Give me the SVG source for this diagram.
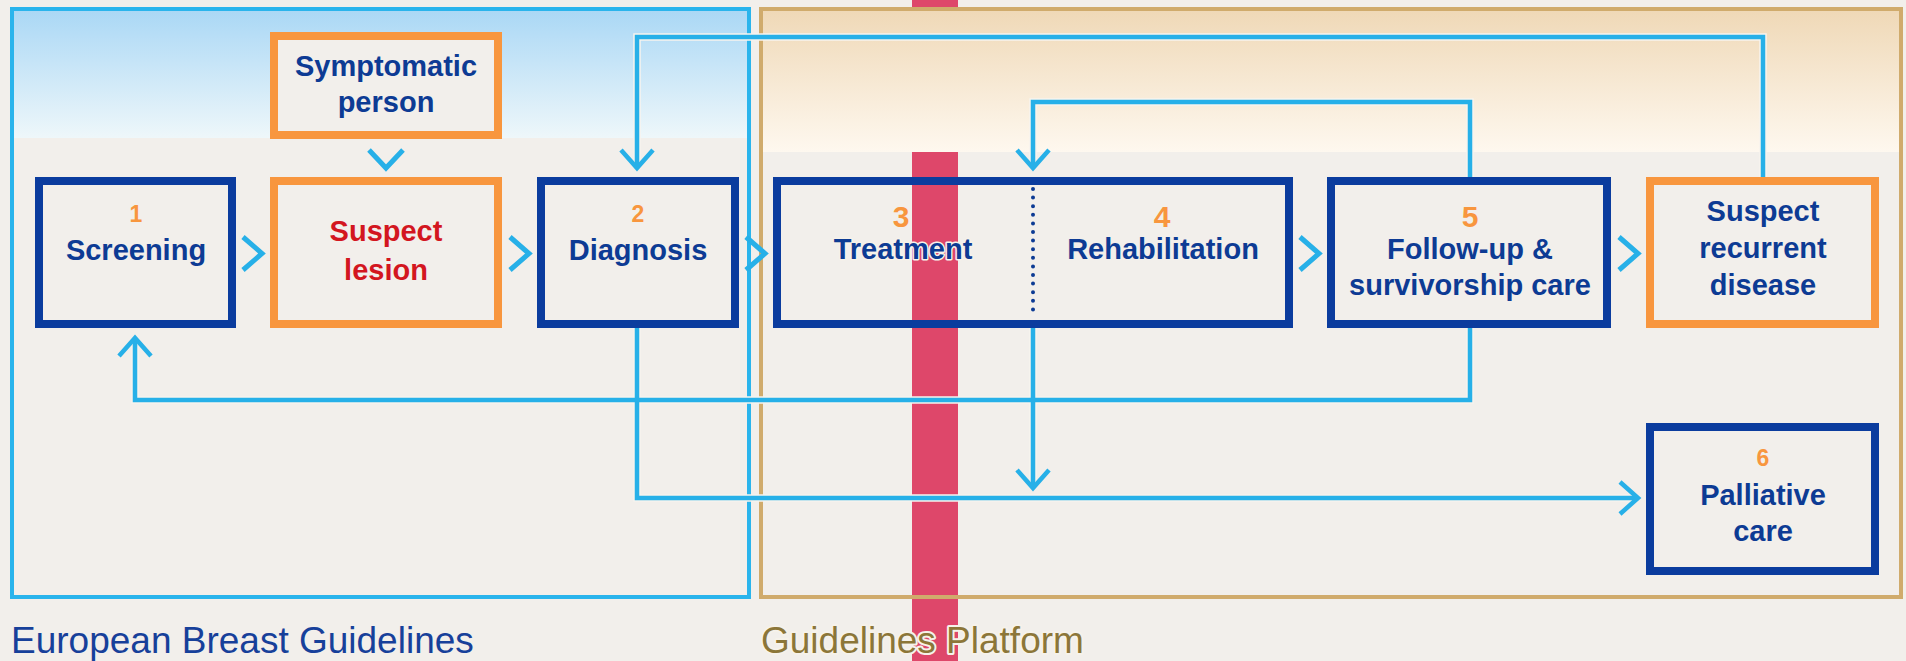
<svg xmlns="http://www.w3.org/2000/svg" width="1906" height="661" viewBox="0 0 1906 661">
  <defs>
    <linearGradient id="gBlue" x1="0" y1="0" x2="0" y2="1">
      <stop offset="0" stop-color="#a9d7f5"/>
      <stop offset="1" stop-color="#eef7fa"/>
    </linearGradient>
    <linearGradient id="gTan" x1="0" y1="0" x2="0" y2="1">
      <stop offset="0" stop-color="#efd8b6"/>
      <stop offset="1" stop-color="#fef8ef"/>
    </linearGradient>
    <marker id="arr" markerUnits="userSpaceOnUse" viewBox="-22 -20 26 40" refX="0" refY="0" markerWidth="26" markerHeight="40" orient="auto" overflow="visible">
      <path d="M-18,-16 L0,0 L-18,16" fill="none" stroke="#27b0e8" stroke-width="4.5"/>
    </marker>
    <style>
      .bg { fill: #f2efeb; }
      .box-blue { fill: #f2efeb; stroke: #0b3c9e; stroke-width: 8; }
      .box-orange { fill: #f2efeb; stroke: #f8963e; stroke-width: 8; }
      .lbl { font-family: "Liberation Sans", Arial, sans-serif; font-weight: bold; font-size: 29px; fill: #0d3b94; text-anchor: middle; }
      .red { fill: #d3161f; }
      .num-s { font-family: "Liberation Sans", Arial, sans-serif; font-weight: bold; font-size: 23px; fill: #f8963e; text-anchor: middle; }
      .num-l { font-family: "Liberation Sans", Arial, sans-serif; font-weight: bold; font-size: 30px; fill: #f8963e; text-anchor: middle; }
      .halo { stroke: #f6f2ea; stroke-width: 3; paint-order: stroke; stroke-linejoin: round; }
      .conn { fill: none; stroke: #27b0e8; stroke-width: 4.5; }
      .conn-halo { fill: none; stroke: #f7f4ee; stroke-width: 7.5; }
      .chev { fill: none; stroke: #27b0e8; stroke-width: 5; }
      .frame-blue { fill: none; stroke: #2ab4ec; stroke-width: 4; }
      .frame-tan { fill: none; stroke: #d0ab6c; stroke-width: 4; }
      .title { font-family: "Liberation Sans", Arial, sans-serif; font-size: 37px; }
    </style>
  </defs>

  <rect class="bg" x="0" y="0" width="1906" height="661"/>

  <g id="background-panels">
    <rect x="912" y="0" width="46" height="661" fill="#de476a"/>
    <rect x="11" y="8" width="738" height="130" fill="url(#gBlue)"/>
    <rect x="760" y="8" width="1141" height="144" fill="url(#gTan)"/>
    <rect class="frame-blue" x="12" y="9" width="737" height="588"/>
    <rect class="frame-tan" x="761" y="9" width="1140" height="588"/>
    <text class="title" x="11" y="653" fill="#17409a">European Breast Guidelines</text>
    <text class="title halo" x="761" y="653" fill="#8c7638" style="stroke-width:4">Guidelines Platform</text>
  </g>

  <g id="connectors">
    <g>
      <path class="conn-halo" d="M1763,177 V37 H637 V160"/>
      <path class="conn-halo" d="M1470,177 V102 H1033 V160"/>
      <path class="conn-halo" d="M1470,328 V400 H135 V346"/>
      <path class="conn-halo" d="M1033,328 V480"/>
      <path class="conn-halo" d="M637,328 V498 H1630"/>
    </g>
    <path class="conn" d="M1763,177 V37 H637 V168" marker-end="url(#arr)"/>
    <path class="conn" d="M1470,177 V102 H1033 V168" marker-end="url(#arr)"/>
    <path class="conn" d="M1470,328 V400 H135 V338" marker-end="url(#arr)"/>
    <path class="conn" d="M1033,328 V488" marker-end="url(#arr)"/>
    <path class="conn" d="M637,328 V498 H1638" marker-end="url(#arr)"/>
    <path class="chev" d="M369,150 L386,168 L403,150"/>
    <path class="chev" d="M243,237 L262,253.5 L243,270"/>
    <path class="chev" d="M510,237 L529,253.5 L510,270"/>
    <path class="chev" d="M746,237 L765,253.5 L746,270"/>
    <path class="chev" d="M1300,237 L1319,253.5 L1300,270"/>
    <path class="chev" d="M1619,237 L1638,253.5 L1619,270"/>
  </g>

  <g id="symptomatic-person">
    <rect class="box-orange" x="274" y="36" width="224" height="99"/>
    <text class="lbl" x="386" y="76">Symptomatic</text>
    <text class="lbl" x="386" y="112">person</text>
  </g>

  <g id="screening">
    <rect class="box-blue" x="39" y="181" width="193" height="143"/>
    <text class="num-s" x="136" y="222">1</text>
    <text class="lbl" x="136" y="260">Screening</text>
  </g>

  <g id="suspect-lesion">
    <rect class="box-orange" x="274" y="181" width="224" height="143"/>
    <text class="lbl red" x="386" y="241">Suspect</text>
    <text class="lbl red" x="386" y="280">lesion</text>
  </g>

  <g id="diagnosis">
    <rect class="box-blue" x="541" y="181" width="194" height="143"/>
    <text class="num-s" x="638" y="222">2</text>
    <text class="lbl" x="638" y="260">Diagnosis</text>
  </g>

  <g id="treatment-rehabilitation">
    <rect x="777" y="181" width="512" height="143" fill="none" stroke="#0b3c9e" stroke-width="8"/>
    <line x1="1033" y1="189" x2="1033" y2="318" stroke="#0d3b94" stroke-width="4" stroke-linecap="round" stroke-dasharray="0 8.6"/>
    <g id="treatment">
      <text class="num-l" x="901" y="227">3</text>
      <text class="lbl halo" x="903" y="259">Treatment</text>
    </g>
    <g id="rehabilitation">
      <text class="num-l" x="1162" y="227">4</text>
      <text class="lbl" x="1163" y="259">Rehabilitation</text>
    </g>
  </g>

  <g id="follow-up">
    <rect class="box-blue" x="1331" y="181" width="276" height="143"/>
    <text class="num-l" x="1470" y="227">5</text>
    <text class="lbl" x="1470" y="259">Follow-up &amp;</text>
    <text class="lbl" x="1470" y="295">survivorship care</text>
  </g>

  <g id="suspect-recurrent-disease">
    <rect class="box-orange" x="1650" y="181" width="225" height="143"/>
    <text class="lbl" x="1763" y="221">Suspect</text>
    <text class="lbl" x="1763" y="258">recurrent</text>
    <text class="lbl" x="1763" y="295">disease</text>
  </g>

  <g id="palliative-care">
    <rect class="box-blue" x="1650" y="427" width="225" height="144"/>
    <text class="num-s" x="1763" y="466">6</text>
    <text class="lbl" x="1763" y="505">Palliative</text>
    <text class="lbl" x="1763" y="541">care</text>
  </g>
</svg>
